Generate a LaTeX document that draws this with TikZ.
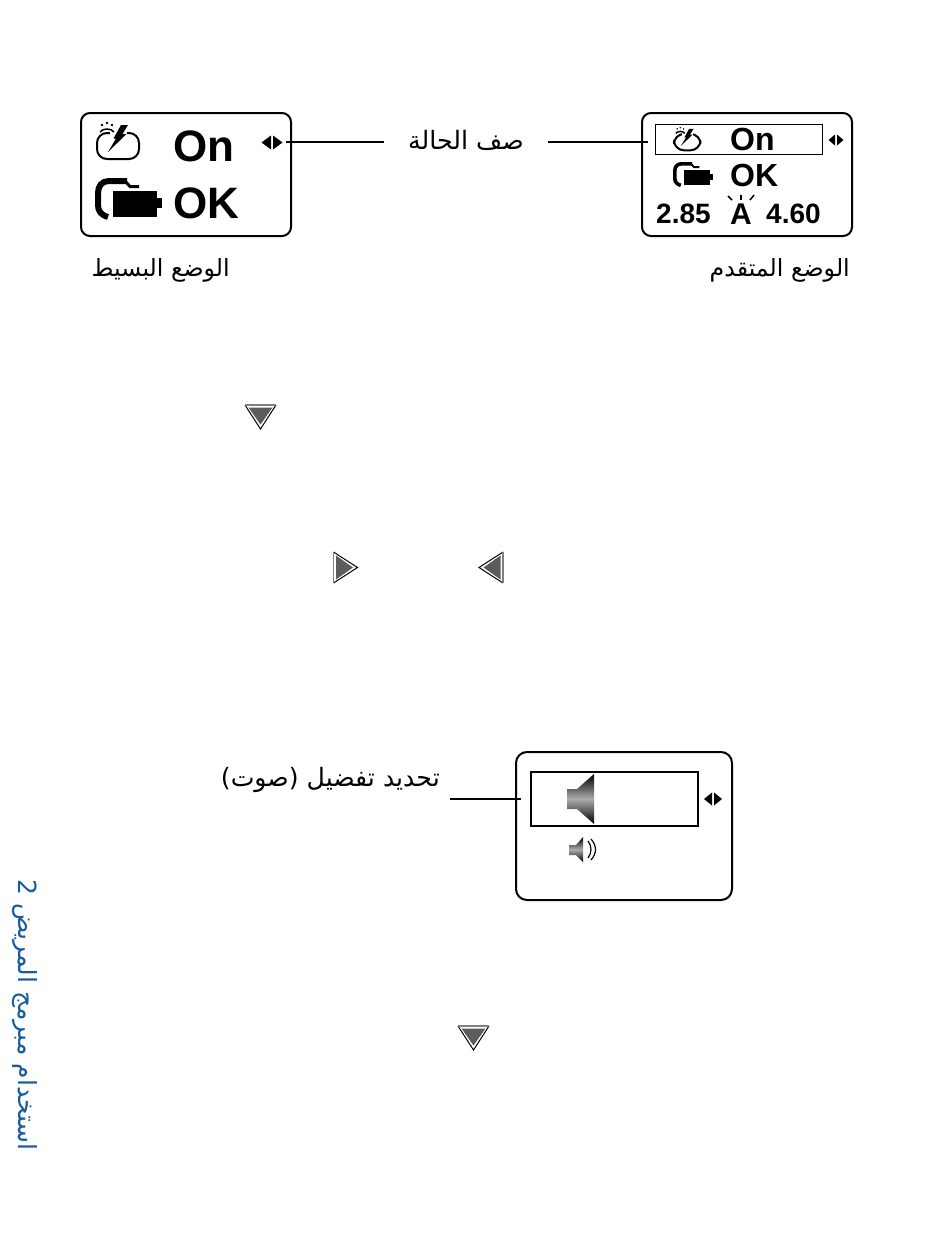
\documentclass[tikz,border=0pt]{standalone}
\usepackage{fontspec}
\usepackage{xcolor}
\setmainfont{Liberation Sans}
\newfontfamily\arabicfont[Script=Arabic]{DejaVu Sans}
\TeXXeTstate=1
\definecolor{dkblue}{rgb}{0.09,0.36,0.62}
\definecolor{dkgray}{rgb}{0.36,0.36,0.36}

\tikzset{
  screenbox/.style={draw,line width=2pt,rounded corners=9pt},
  lcdtext/.style={anchor=base west,inner sep=0pt,font=\bfseries\fontsize{#1}{#1}\selectfont},
  arlabel/.style={anchor=base east,inner sep=0pt,font=\arabicfont\fontsize{#1}{#1}\selectfont},
  leader/.style={line width=1.3pt}
}

% small left/right marker of a status row
\newcommand{\rowarrows}[4]{
  \fill (#1-#3-1,#2) -- (#1-1,#2-#4) -- (#1-1,#2+#4) -- cycle;
  \fill (#1+#3+1,#2) -- (#1+1,#2-#4) -- (#1+1,#2+#4) -- cycle;
}

% button triangle, drawn pointing right around its centre
\newcommand{\trianglebutton}[3]{
  \begin{scope}[shift={(#1,#2)},rotate=#3]
    \fill[white] (-12,-15.5) -- (12,0) -- (-12,15.5) -- cycle;
    \draw[line width=1pt] (-12,15.5) -- (12,0) -- (-12,-15.5);
    \draw[gray,line width=1.4pt] (-12,-15.5) -- (-12,15.5);
    \fill[dkgray] (-9.5,-12) -- (7.5,0) -- (-9.5,12) -- cycle;
  \end{scope}
}

% flash icon, origin at its top left
\newcommand{\flashicon}[3]{
  \begin{scope}[shift={(#1,#2)},scale=#3]
    \draw[line width=2pt,rounded corners=10pt] (0,11) rectangle (42,37);
    \fill[white] (13,6) rectangle (30,14);
    \fill[white] (8,30) -- (18,12) -- (24,14) -- (13,33) -- cycle;
    \fill (24,3) -- (31,3) -- (25.5,12) -- (29.5,12) -- (11,30) -- (19,16.5) -- (16.5,16.5) -- cycle;
    \fill (5,3) circle (1.3) (10,1) circle (1.3) (15,3) circle (1.3);
    \draw[line width=1.5pt] (3,10) .. controls (6,6) and (14,6) .. (17,10);
  \end{scope}
}

% battery icon, origin at its top left
\newcommand{\batteryicon}[3]{
  \begin{scope}[shift={(#1,#2)},scale=#3]
    \draw[line width=#3*6pt] (32,3) -- (14,3) .. controls (7,3) and (3,8) .. (3,15) -- (3,27) .. controls (3,33) and (6,37) .. (13,39);
    \draw[line width=#3*3pt] (30,3) -- (35,8.5) -- (44,8.5);
    \fill (18,13) rectangle (62,39);
    \fill (62,20) rectangle (67,30);
  \end{scope}
}

\begin{document}
\begin{tikzpicture}[x=1pt,y=-1pt]
\useasboundingbox (0,0) rectangle (950,1258);

% simple mode screen
\node[screenbox,minimum width=210pt,minimum height=123pt,anchor=north west] (simplescreen) at (80,112) {};
\flashicon{97}{122}{1}
\node[lcdtext=44] (simpleon) at (173,161) {On};
\batteryicon{95}{178}{1}
\node[lcdtext=44] (simpleok) at (173,218) {OK};
\rowarrows{272}{142.5}{9.5}{7}
\node[lcdtext=14,minimum width=1pt] (simplearrows) at (285,142) {};

% advanced mode screen
\node[screenbox,minimum width=210pt,minimum height=123pt,anchor=north west] (advscreen) at (641,112) {};
\node[draw,line width=0.9pt,minimum width=167pt,minimum height=30pt,anchor=north west] (advrow) at (654.5,124) {};
\flashicon{674}{127}{0.63}
\node[lcdtext=32] (advon) at (730,150.5) {On};
\batteryicon{673}{162}{0.6}
\node[lcdtext=32] (advok) at (730,186) {OK};
\rowarrows{836}{140}{6.5}{5.5}
\node[lcdtext=28] (advleft) at (656,223) {2.85};
\node[lcdtext=30] (advmode) at (730,224) {A};
\draw[line width=1.5pt] (728,196) -- (732,200);
\draw[line width=1.5pt] (741,195) -- (741,200);
\draw[line width=1.5pt] (754,195) -- (750,200);
\node[lcdtext=28] (advright) at (766,223) {4.60};

% status row label
\node[arlabel=25.3,anchor=center,minimum width=164pt] (statusrow) at (466,140) {\beginR صف الحالة\endR};
\coordinate (advend) at (648,142);
\draw[leader] (simplearrows) -- (simplearrows -| statusrow.west);
\draw[leader] (advend -| statusrow.east) -- (advend);

% mode captions
\node[arlabel=23.7] (simplecaption) at (230,276) {\beginR الوضع البسيط\endR};
\node[arlabel=23.7] (advcaption) at (850,276) {\beginR الوضع المتقدم\endR};

% buttons
\trianglebutton{260.5}{417}{270}
\trianglebutton{345.5}{567.5}{0}
\trianglebutton{491}{567.5}{180}
\trianglebutton{473.5}{1038}{270}

% preference screen
\node[screenbox,minimum width=216pt,minimum height=148pt,rounded corners=11pt,anchor=north west] (prefscreen) at (515,751) {};
\node[draw,line width=2pt,minimum width=167pt,minimum height=54pt,anchor=north west] (prefrow) at (530,771) {};
\rowarrows{713}{799}{8}{6.5}
\shade[top color=black,bottom color=black,middle color=gray!65] (567,789) -- (577,789) -- (594,774) -- (594,824) -- (577,809) -- (567,809) -- cycle;
\shade[top color=black,bottom color=black,middle color=gray!65] (569,845) -- (576,845) -- (583,837) -- (583,862) -- (576,855) -- (569,855) -- cycle;
\draw[line width=1.2pt] (588,841) .. controls (592,846) and (592,853) .. (588,858);
\draw[line width=1.2pt] (591,839) .. controls (597,846) and (597,853) .. (591,860);

% preference label
\node[arlabel=25.2] (preflabel) at (440,786) {\beginR تحديد تفضيل (صوت)\endR};
\coordinate (prefstart) at (450,799);
\coordinate (prefend) at (521,799);
\draw[leader] (prefstart) -- (prefend);

% section title on the margin
\node[rotate=-90,anchor=center,inner sep=0pt,text=dkblue,font=\arabicfont\fontsize{25}{25}\selectfont] (sidetitle) at (25,1015) {\beginR استخدام مبرمج المريض 2\endR};

\end{tikzpicture}
\end{document}
